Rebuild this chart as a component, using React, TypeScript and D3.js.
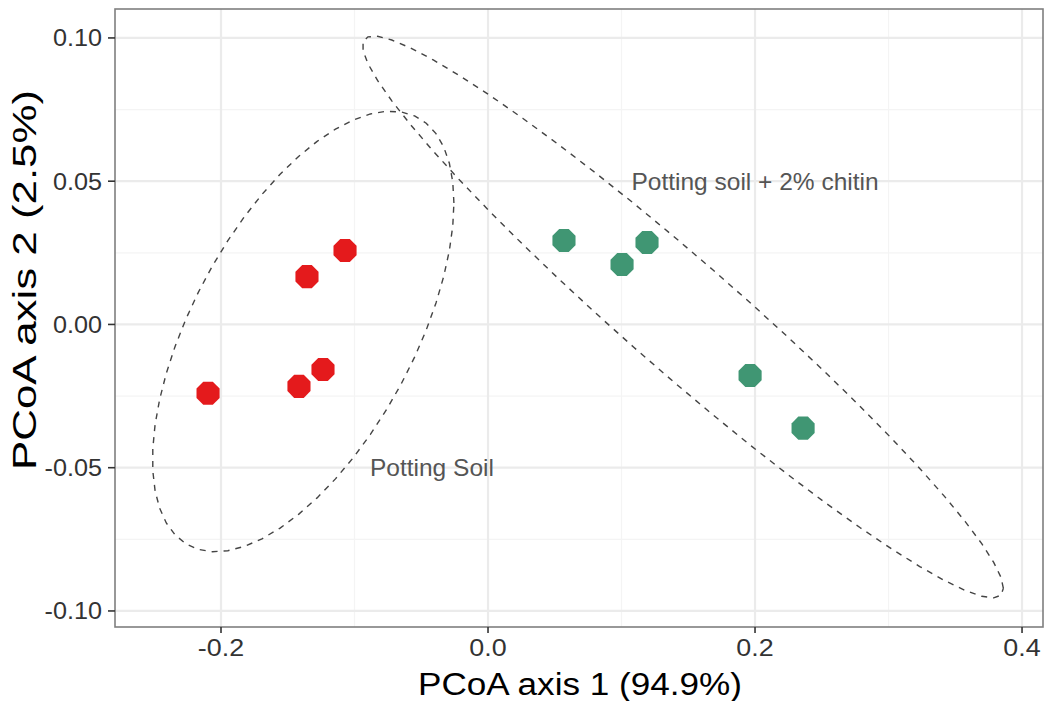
import { useMemo } from 'react';
import * as d3 from 'd3';

// PCoA scores
const soilX   = [-0.2097, -0.1416, -0.1356, -0.1236, -0.1071];
const soilY   = [-0.0240, -0.0216,  0.0167, -0.0157,  0.0258];
const chitinX = [ 0.0569,  0.1004,  0.1191,  0.1963,  0.2360];
const chitinY = [ 0.0293,  0.0209,  0.0286, -0.0178, -0.0362];

const groups      = ['Potting Soil', 'Potting soil + 2% chitin'];
const groupColors = ['#E41A1C', '#409673'];
const labelX      = [-0.042, 0.2];
const labelY      = [-0.05, 0.05];

const xTicks      = [-0.2, 0.0, 0.2, 0.4];
const xTickLabels = ['-0.2', '0.0', '0.2', '0.4'];
const xMinor      = [-0.1, 0.1, 0.3];
const yTicks      = [-0.10, -0.05, 0.00, 0.05, 0.10];
const yTickLabels = ['-0.10', '-0.05', '0.00', '0.05', '0.10'];
const yMinor      = [-0.075, -0.025, 0.025, 0.075];

const W = 1044, H = 701;
const FONT = "'Liberation Sans', Arial, sans-serif";

// MASS::cov.trob (nu = 5), 2-D only
function covTrob(xs: number[], ys: number[]) {
  const n = xs.length, p = 2, nu = 5, tol = 0.01;
  let lx = d3.mean(xs)!, ly = d3.mean(ys)!;
  let w = xs.map(() => 1);
  let dx: number[] = [], dy: number[] = [];
  for (let iter = 0; iter < 25; iter++) {
    const w0 = w.slice();
    dx = xs.map(v => v - lx);
    dy = ys.map(v => v - ly);
    const sw = d3.sum(w);
    let a = 0, b = 0, c = 0;
    for (let i = 0; i < n; i++) {
      a += w[i] / sw * dx[i] * dx[i];
      b += w[i] / sw * dx[i] * dy[i];
      c += w[i] / sw * dy[i] * dy[i];
    }
    const det = a * c - b * b;
    const Q = dx.map((_, i) => (c * dx[i] * dx[i] - 2 * b * dx[i] * dy[i] + a * dy[i] * dy[i]) / det);
    w = Q.map(q => (nu + p) / (nu + q));
    const sw2 = d3.sum(w);
    lx = d3.sum(xs.map((v, i) => v * w[i])) / sw2;
    ly = d3.sum(ys.map((v, i) => v * w[i])) / sw2;
    if (w.every((v, i) => Math.abs(v - w0[i]) < tol)) break;
  }
  let sxx = 0, sxy = 0, syy = 0;
  for (let i = 0; i < n; i++) {
    sxx += w[i] * dx[i] * dx[i];
    sxy += w[i] * dx[i] * dy[i];
    syy += w[i] * dy[i] * dy[i];
  }
  return { cx: lx, cy: ly, sxx: sxx / n, sxy: sxy / n, syy: syy / n };
}

// ggplot2 stat_ellipse(type = "t", level = 0.95)
function ellipsePts(xs: number[], ys: number[]): [number, number][] {
  const v = covTrob(xs, ys);
  const radius = Math.sqrt(2 * 6.944272); // sqrt(2 * qf(.95, 2, 4))
  const a = Math.sqrt(v.sxx), b = v.sxy / a, c = Math.sqrt(v.syy - b * b);
  return d3.range(52).map(k => {
    const t = k * 2 * Math.PI / 51;
    return [v.cx + radius * a * Math.cos(t), v.cy + radius * (b * Math.cos(t) + c * Math.sin(t))];
  });
}

export default function App() {
  const left = 115, right = 1043, top = 9, bottom = 627;
  const x = d3.scaleLinear().domain([-0.2794, 0.4157]).range([left, right]);
  const y = d3.scaleLinear().domain([-0.1056, 0.1101]).range([bottom, top]);

  const series = useMemo(() => [
    { xs: soilX, ys: soilY },
    { xs: chitinX, ys: chitinY },
  ], []);

  const line = d3.line<[number, number]>().x(d => x(d[0])).y(d => y(d[1]));
  const octagon = d3.symbol().type({
    draw(ctx: any, size: number) {
      const r = Math.sqrt(size / Math.PI);
      for (let i = 0; i < 8; i++) {
        const ang = Math.PI / 8 + i * Math.PI / 4;
        i === 0 ? ctx.moveTo(r * Math.cos(ang), r * Math.sin(ang)) : ctx.lineTo(r * Math.cos(ang), r * Math.sin(ang));
      }
      ctx.closePath();
    },
  }).size(Math.PI * 12.5 * 12.5)();

  return (
    <>
      <style>{`body{margin:0}`}</style>
      <svg width={W} height={H} style={{ display: 'block', background: '#fff' }} fontFamily={FONT}>
        <rect x={left} y={top} width={right - left} height={bottom - top} fill="#fff" />
        {xMinor.map(v => <line key={'xm' + v} x1={x(v)} x2={x(v)} y1={top} y2={bottom} stroke="#F4F4F4" strokeWidth={1.2} />)}
        {yMinor.map(v => <line key={'ym' + v} y1={y(v)} y2={y(v)} x1={left} x2={right} stroke="#F4F4F4" strokeWidth={1.2} />)}
        {xTicks.map(v => <line key={'xg' + v} x1={x(v)} x2={x(v)} y1={top} y2={bottom} stroke="#EBEBEB" strokeWidth={2.2} />)}
        {yTicks.map(v => <line key={'yg' + v} y1={y(v)} y2={y(v)} x1={left} x2={right} stroke="#EBEBEB" strokeWidth={2.2} />)}

        {series.map((s, i) => (
          <path key={'el' + i} d={line(ellipsePts(s.xs, s.ys)) ?? ''} fill="none"
            stroke="#444" strokeWidth={1.4} strokeDasharray="6,6" />
        ))}

        {series.map((s, i) => s.xs.map((xv, j) => (
          <path key={`pt${i}-${j}`} d={octagon ?? ''} transform={`translate(${x(xv)},${y(s.ys[j])})`} fill={groupColors[i]} />
        )))}

        {groups.map((g, i) => (
          <text key={g} x={x(labelX[i])} y={y(labelY[i])} dy="0.35em" textAnchor="middle"
            fontSize={24.5} fill="#555">{g}</text>
        ))}

        <rect x={left} y={top} width={right - left} height={bottom - top} fill="none" stroke="#7F7F7F" strokeWidth={1.6} />

        {xTicks.map((v, i) => (
          <g key={'xt' + v}>
            <line x1={x(v)} x2={x(v)} y1={bottom} y2={bottom + 6} stroke="#333" strokeWidth={1.6} />
            <text transform={`translate(${x(v)},${bottom + 29}) scale(1.12,1)`} textAnchor="middle" fontSize={24} fill="#333">{xTickLabels[i]}</text>
          </g>
        ))}
        {yTicks.map((v, i) => (
          <g key={'yt' + v}>
            <line x1={left - 7} x2={left} y1={y(v)} y2={y(v)} stroke="#333" strokeWidth={1.6} />
            <text transform={`translate(${left - 13},${y(v)}) scale(1.05,1)`} dy="0.35em" textAnchor="end" fontSize={24} fill="#333">{yTickLabels[i]}</text>
          </g>
        ))}

        <text x={580} y={695} textAnchor="middle" fontSize={31} fill="#000"
          textLength={324} lengthAdjust="spacingAndGlyphs">PCoA axis 1 (94.9%)</text>
        <text transform="translate(36,280) rotate(-90)" textAnchor="middle" fontSize={33} fill="#000"
          textLength={380} lengthAdjust="spacingAndGlyphs">PCoA axis 2 (2.5%)</text>
      </svg>
    </>
  );
}
